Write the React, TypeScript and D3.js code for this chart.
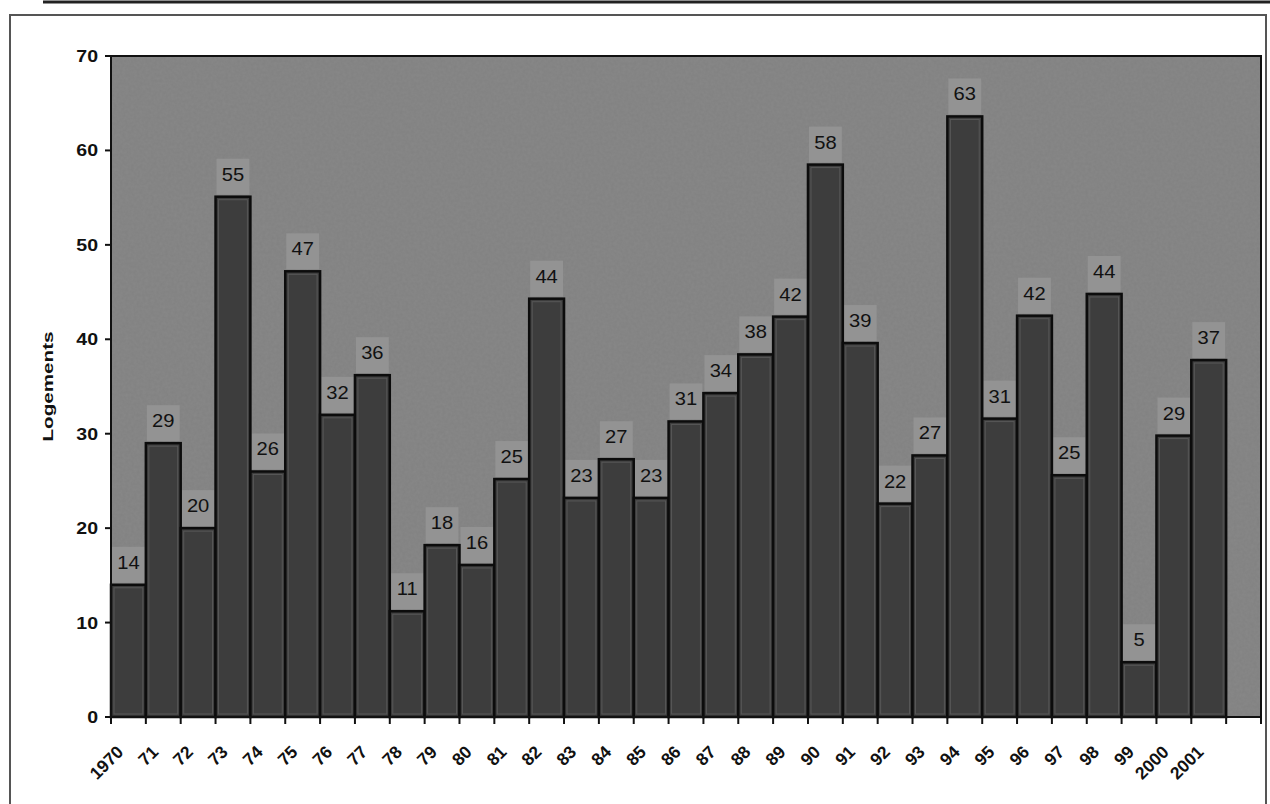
import React from "react";
import * as d3 from "d3";

const years = ["1970","71","72","73","74","75","76","77","78","79","80","81","82","83","84","85","86","87","88","89","90","91","92","93","94","95","96","97","98","99","2000","2001"];
const values = [14.0, 29.0, 20.0, 55.1, 26.0, 47.2, 32.0, 36.2, 11.2, 18.2, 16.1, 25.2, 44.3, 23.2, 27.3, 23.2, 31.3, 34.3, 38.4, 42.4, 58.5, 39.6, 22.6, 27.7, 63.6, 31.6, 42.5, 25.6, 44.8, 5.8, 29.8, 37.8];
const labels = [14, 29, 20, 55, 26, 47, 32, 36, 11, 18, 16, 25, 44, 23, 27, 23, 31, 34, 38, 42, 58, 39, 22, 27, 63, 31, 42, 25, 44, 5, 29, 37];
const yTicks = [0, 10, 20, 30, 40, 50, 60, 70];
const yTitle = "Logements";

const W = 1270, H = 804;
const L = 111, R = 1261, T = 56, B = 717;
const FONT = "Arial, 'Liberation Sans', sans-serif";

export default function App() {
  const slots = [...years, "__pad"];
  const x = d3.scaleBand<string>().domain(slots).range([L, R]).padding(0);
  const y = d3.scaleLinear().domain([0, 70]).range([B, T]);
  const bw = x.bandwidth();
  const boundaries = slots.map((s) => x(s) as number).concat([R]);

  return (
    <svg width={W} height={H} style={{ position: "absolute", left: 0, top: 0, background: "#fff" }}>
      <defs>
        <filter id="noise" x="0" y="0" width="100%" height="100%">
          <feTurbulence type="fractalNoise" baseFrequency="0.35" numOctaves="2" seed="3" result="t" />
          <feColorMatrix in="t" type="matrix" values="0 0 0 0 0.5  0 0 0 0 0.5  0 0 0 0 0.5  0 0 0 0.22 0" result="n" />
          <feComposite in="n" in2="SourceGraphic" operator="in" result="nc" />
          <feBlend in="SourceGraphic" in2="nc" mode="multiply" />
        </filter>
      </defs>
      {/* top rule */}
      <line x1={43} x2={W} y1={2} y2={2} stroke="#222" strokeWidth={3} />
      {/* frame */}
      <rect x={10} y={15} width={1256} height={800} fill="#fff" stroke="#555" strokeWidth={2} />
      {/* plot background */}
      <rect x={L} y={T} width={R - L} height={B - T} fill="#888888" filter="url(#noise)" />
      {/* label boxes */}
      {years.map((yr, i) => (
        <rect key={"lb" + yr} x={(x(yr) as number) + 1} y={y(values[i]) - 38} width={bw - 2} height={36} fill="#939393" />
      ))}
      {/* bars */}
      {years.map((yr, i) => (
        <g key={"b" + yr}>
          <rect x={x(yr)} y={y(values[i])} width={bw} height={B - y(values[i])} fill="#3d3d3d" stroke="#0c0c0c" strokeWidth={2.5} />
          <rect x={(x(yr) as number) + 3} y={y(values[i]) + 3} width={bw - 6} height={Math.max(0, B - y(values[i]) - 6)} fill="none" stroke="#585858" strokeWidth={1} />
        </g>
      ))}
      {/* value labels */}
      {years.map((yr, i) => {
        const cx = (x(yr) as number) + bw / 2;
        const cy = y(values[i]) - 16;
        return (
          <text key={"v" + yr} transform={`translate(${cx} ${cy}) scale(1.12 1)`} textAnchor="middle" fontFamily={FONT} fontSize={18} fill="#111">
            {labels[i]}
          </text>
        );
      })}
      {/* plot border */}
      <rect x={L} y={T} width={R - L} height={B - T} fill="none" stroke="#111" strokeWidth={2} />
      {/* y axis ticks */}
      {yTicks.map((t) => (
        <g key={"yt" + t}>
          <line x1={L - 6} x2={L} y1={y(t)} y2={y(t)} stroke="#111" strokeWidth={2} />
          <text transform={`translate(${L - 13} ${y(t) + 6}) scale(1.15 1)`} textAnchor="end" fontFamily={FONT} fontWeight="bold" fontSize={17} fill="#111">{t}</text>
        </g>
      ))}
      {/* x axis ticks */}
      {boundaries.map((bx, i) => (
        <line key={"xt" + i} x1={bx} x2={bx} y1={B} y2={B + 7} stroke="#111" strokeWidth={2} />
      ))}
      {years.map((yr) => {
        const cx = (x(yr) as number) + bw / 2 - 4;
        const cy = B + 36;
        return (
          <text key={"xl" + yr} x={cx} y={cy} transform={`rotate(-45 ${cx} ${cy})`} textAnchor="end" fontFamily={FONT} fontWeight="bold" fontSize={17.5} fill="#111">{yr}</text>
        );
      })}
      <text transform={`translate(53 ${(T + B) / 2}) rotate(-90)`} textAnchor="middle" fontFamily={FONT} fontWeight="bold" fontSize={15} textLength={110} lengthAdjust="spacingAndGlyphs" fill="#111">{yTitle}</text>
    </svg>
  );
}
